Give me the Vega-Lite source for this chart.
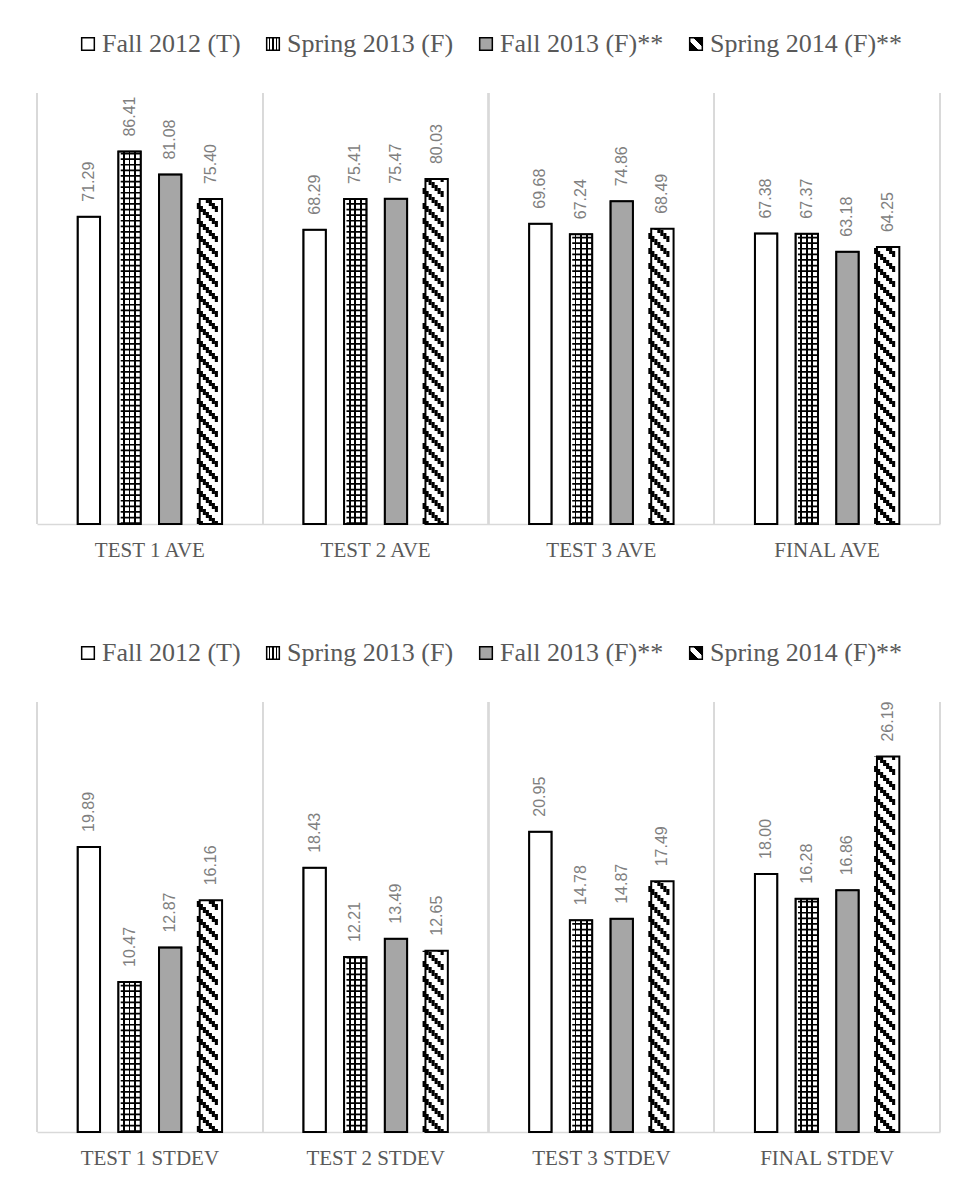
{
  "$schema": "https://vega.github.io/schema/vega-lite/v6.json",
  "padding": {"left": 36, "top": 31, "right": 30, "bottom": 10},
  "background": "white",
  "datasets": {
    "ave": [
      {"cat": "TEST 1 AVE", "s": "Fall 2012 (T)", "v": 71.29},
      {"cat": "TEST 1 AVE", "s": "Spring 2013 (F)", "v": 86.41},
      {"cat": "TEST 1 AVE", "s": "Fall 2013 (F)**", "v": 81.08},
      {"cat": "TEST 1 AVE", "s": "Spring 2014 (F)**", "v": 75.40},
      {"cat": "TEST 2 AVE", "s": "Fall 2012 (T)", "v": 68.29},
      {"cat": "TEST 2 AVE", "s": "Spring 2013 (F)", "v": 75.41},
      {"cat": "TEST 2 AVE", "s": "Fall 2013 (F)**", "v": 75.47},
      {"cat": "TEST 2 AVE", "s": "Spring 2014 (F)**", "v": 80.03},
      {"cat": "TEST 3 AVE", "s": "Fall 2012 (T)", "v": 69.68},
      {"cat": "TEST 3 AVE", "s": "Spring 2013 (F)", "v": 67.24},
      {"cat": "TEST 3 AVE", "s": "Fall 2013 (F)**", "v": 74.86},
      {"cat": "TEST 3 AVE", "s": "Spring 2014 (F)**", "v": 68.49},
      {"cat": "FINAL AVE", "s": "Fall 2012 (T)", "v": 67.38},
      {"cat": "FINAL AVE", "s": "Spring 2013 (F)", "v": 67.37},
      {"cat": "FINAL AVE", "s": "Fall 2013 (F)**", "v": 63.18},
      {"cat": "FINAL AVE", "s": "Spring 2014 (F)**", "v": 64.25}
    ],
    "sd": [
      {"cat": "TEST 1 STDEV", "s": "Fall 2012 (T)", "v": 19.89},
      {"cat": "TEST 1 STDEV", "s": "Spring 2013 (F)", "v": 10.47},
      {"cat": "TEST 1 STDEV", "s": "Fall 2013 (F)**", "v": 12.87},
      {"cat": "TEST 1 STDEV", "s": "Spring 2014 (F)**", "v": 16.16},
      {"cat": "TEST 2 STDEV", "s": "Fall 2012 (T)", "v": 18.43},
      {"cat": "TEST 2 STDEV", "s": "Spring 2013 (F)", "v": 12.21},
      {"cat": "TEST 2 STDEV", "s": "Fall 2013 (F)**", "v": 13.49},
      {"cat": "TEST 2 STDEV", "s": "Spring 2014 (F)**", "v": 12.65},
      {"cat": "TEST 3 STDEV", "s": "Fall 2012 (T)", "v": 20.95},
      {"cat": "TEST 3 STDEV", "s": "Spring 2013 (F)", "v": 14.78},
      {"cat": "TEST 3 STDEV", "s": "Fall 2013 (F)**", "v": 14.87},
      {"cat": "TEST 3 STDEV", "s": "Spring 2014 (F)**", "v": 17.49},
      {"cat": "FINAL STDEV", "s": "Fall 2012 (T)", "v": 18.00},
      {"cat": "FINAL STDEV", "s": "Spring 2013 (F)", "v": 16.28},
      {"cat": "FINAL STDEV", "s": "Fall 2013 (F)**", "v": 16.86},
      {"cat": "FINAL STDEV", "s": "Spring 2014 (F)**", "v": 26.19}
    ]
  },
  "spacing": 80,
  "resolve": {"scale": {"fill": "independent"}, "legend": {"fill": "independent"}},
  "vconcat": [
    {
      "data": {"name": "ave"},
      "width": 903,
      "height": 431,
      "encoding": {
        "x": {"field": "cat", "type": "nominal", "sort": null, "scale": {"paddingInner": 0, "paddingOuter": 0}},
        "y": {"field": "v", "type": "quantitative", "scale": {"domain": [0, 100]}, "axis": null}
      },
      "layer": [
        {"mark": {"type": "rule", "color": "#D9D9D9", "strokeWidth": 1.5},
         "encoding": {"x": {"field": "cat", "type": "nominal", "sort": null, "bandPosition": 0}, "y": {"datum": 0, "type": "quantitative", "axis": null}, "y2": {"datum": 100}}},
        {"mark": {"type": "rule", "color": "#D9D9D9", "strokeWidth": 1.5},
         "encoding": {"x": {"field": "cat", "type": "nominal", "sort": null, "bandPosition": 1}, "y": {"datum": 0, "type": "quantitative", "axis": null}, "y2": {"datum": 100}}},
        {"transform": [{"filter": "datum.s !== 'Spring 2014 (F)**'"}],
         "mark": {"type": "bar", "stroke": "black", "strokeWidth": 1.5},
         "encoding": {
           "xOffset": {"field": "s", "type": "nominal", "sort": null, "scale": {"paddingInner": 0.45, "paddingOuter": 1.17}},
           "fill": {"field": "s", "type": "nominal", "legend": {"title": null},
             "scale": {"domain": ["Fall 2012 (T)", "Spring 2013 (F)", "Fall 2013 (F)**", "Spring 2014 (F)**"],
               "range": ["white",
                 {"expr": "{gradient: 'linear', x1: 0, y1: 0, x2: 1, y2: 0, stops: [{offset: 0, color: 'white'}, {offset: 0.21, color: 'white'}, {offset: 0.21, color: 'black'}, {offset: 0.29, color: 'black'}, {offset: 0.29, color: 'white'}, {offset: 0.46, color: 'white'}, {offset: 0.46, color: 'black'}, {offset: 0.54, color: 'black'}, {offset: 0.54, color: 'white'}, {offset: 0.71, color: 'white'}, {offset: 0.71, color: 'black'}, {offset: 0.79, color: 'black'}, {offset: 0.79, color: 'white'}, {offset: 1, color: 'white'}]}"},
                 "#A6A6A6",
                 {"expr": "{gradient: 'linear', x1: 0, y1: 1, x2: 1, y2: 0, stops: [{offset: 0, color: 'black'}, {offset: 0.38, color: 'black'}, {offset: 0.38, color: 'white'}, {offset: 0.62, color: 'white'}, {offset: 0.62, color: 'black'}, {offset: 1, color: 'black'}]}"}
               ]}}
         }},
        {"transform": [{"filter": "datum.s === 'Spring 2013 (F)'"}],
         "mark": {"type": "rule", "color": "black", "strokeWidth": 20, "strokeDash": [1.7, 3.9]},
         "encoding": {"x": {"field": "cat", "type": "nominal", "sort": null, "bandPosition": 0.4151}, "y": {"datum": 0, "type": "quantitative", "axis": null}, "y2": {"field": "v"}}},
        {"transform": [{"filter": "datum.s === 'Spring 2014 (F)**'"}],
         "mark": {"type": "rule", "color": "black", "strokeWidth": 3.1, "strokeDash": [6, 9], "strokeDashOffset": 0, "xOffset": -9},
         "encoding": {"x": {"field": "cat", "type": "nominal", "sort": null, "bandPosition": 0.7547}, "y": {"datum": 0, "type": "quantitative", "axis": null}, "y2": {"field": "v"}}},
        {"transform": [{"filter": "datum.s === 'Spring 2014 (F)**'"}],
         "mark": {"type": "rule", "color": "black", "strokeWidth": 3.1, "strokeDash": [6, 9], "strokeDashOffset": 3, "xOffset": -6},
         "encoding": {"x": {"field": "cat", "type": "nominal", "sort": null, "bandPosition": 0.7547}, "y": {"datum": 0, "type": "quantitative", "axis": null}, "y2": {"field": "v"}}},
        {"transform": [{"filter": "datum.s === 'Spring 2014 (F)**'"}],
         "mark": {"type": "rule", "color": "black", "strokeWidth": 3.1, "strokeDash": [6, 9], "strokeDashOffset": 6, "xOffset": -3},
         "encoding": {"x": {"field": "cat", "type": "nominal", "sort": null, "bandPosition": 0.7547}, "y": {"datum": 0, "type": "quantitative", "axis": null}, "y2": {"field": "v"}}},
        {"transform": [{"filter": "datum.s === 'Spring 2014 (F)**'"}],
         "mark": {"type": "rule", "color": "black", "strokeWidth": 3.1, "strokeDash": [6, 9], "strokeDashOffset": 9, "xOffset": 0},
         "encoding": {"x": {"field": "cat", "type": "nominal", "sort": null, "bandPosition": 0.7547}, "y": {"datum": 0, "type": "quantitative", "axis": null}, "y2": {"field": "v"}}},
        {"transform": [{"filter": "datum.s === 'Spring 2014 (F)**'"}],
         "mark": {"type": "rule", "color": "black", "strokeWidth": 3.1, "strokeDash": [6, 9], "strokeDashOffset": 12, "xOffset": 3},
         "encoding": {"x": {"field": "cat", "type": "nominal", "sort": null, "bandPosition": 0.7547}, "y": {"datum": 0, "type": "quantitative", "axis": null}, "y2": {"field": "v"}}},
        {"transform": [{"filter": "datum.s === 'Spring 2014 (F)**'"}],
         "mark": {"type": "rule", "color": "black", "strokeWidth": 3.1, "strokeDash": [6, 9], "strokeDashOffset": 15, "xOffset": 6},
         "encoding": {"x": {"field": "cat", "type": "nominal", "sort": null, "bandPosition": 0.7547}, "y": {"datum": 0, "type": "quantitative", "axis": null}, "y2": {"field": "v"}}},
        {"transform": [{"filter": "datum.s === 'Spring 2014 (F)**'"}],
         "mark": {"type": "rule", "color": "black", "strokeWidth": 3.1, "strokeDash": [6, 9], "strokeDashOffset": 18, "xOffset": 9},
         "encoding": {"x": {"field": "cat", "type": "nominal", "sort": null, "bandPosition": 0.7547}, "y": {"datum": 0, "type": "quantitative", "axis": null}, "y2": {"field": "v"}}},
        {"mark": {"type": "bar", "fill": "transparent", "stroke": "black", "strokeWidth": 2},
         "encoding": {"xOffset": {"field": "s", "type": "nominal", "sort": null}}},
        {"mark": {"type": "text", "angle": 270, "align": "left", "baseline": "middle", "dx": 15, "font": "Liberation Sans", "fontSize": 16, "color": "#7F7F7F"},
         "encoding": {"xOffset": {"field": "s", "type": "nominal", "sort": null}, "text": {"field": "v", "type": "quantitative", "format": ".2f"}}}
      ]
    },
    {
      "data": {"name": "sd"},
      "width": 903,
      "height": 430,
      "encoding": {
        "x": {"field": "cat", "type": "nominal", "sort": null, "scale": {"paddingInner": 0, "paddingOuter": 0}},
        "y": {"field": "v", "type": "quantitative", "scale": {"domain": [0, 30]}, "axis": null}
      },
      "layer": [
        {"mark": {"type": "rule", "color": "#D9D9D9", "strokeWidth": 1.5},
         "encoding": {"x": {"field": "cat", "type": "nominal", "sort": null, "bandPosition": 0}, "y": {"datum": 0, "type": "quantitative", "axis": null}, "y2": {"datum": 30}}},
        {"mark": {"type": "rule", "color": "#D9D9D9", "strokeWidth": 1.5},
         "encoding": {"x": {"field": "cat", "type": "nominal", "sort": null, "bandPosition": 1}, "y": {"datum": 0, "type": "quantitative", "axis": null}, "y2": {"datum": 30}}},
        {"transform": [{"filter": "datum.s !== 'Spring 2014 (F)**'"}],
         "mark": {"type": "bar", "stroke": "black", "strokeWidth": 1.5},
         "encoding": {
           "xOffset": {"field": "s", "type": "nominal", "sort": null, "scale": {"paddingInner": 0.45, "paddingOuter": 1.17}},
           "fill": {"field": "s", "type": "nominal", "legend": {"title": null},
             "scale": {"domain": ["Fall 2012 (T)", "Spring 2013 (F)", "Fall 2013 (F)**", "Spring 2014 (F)**"],
               "range": ["white",
                 {"expr": "{gradient: 'linear', x1: 0, y1: 0, x2: 1, y2: 0, stops: [{offset: 0, color: 'white'}, {offset: 0.21, color: 'white'}, {offset: 0.21, color: 'black'}, {offset: 0.29, color: 'black'}, {offset: 0.29, color: 'white'}, {offset: 0.46, color: 'white'}, {offset: 0.46, color: 'black'}, {offset: 0.54, color: 'black'}, {offset: 0.54, color: 'white'}, {offset: 0.71, color: 'white'}, {offset: 0.71, color: 'black'}, {offset: 0.79, color: 'black'}, {offset: 0.79, color: 'white'}, {offset: 1, color: 'white'}]}"},
                 "#A6A6A6",
                 {"expr": "{gradient: 'linear', x1: 0, y1: 1, x2: 1, y2: 0, stops: [{offset: 0, color: 'black'}, {offset: 0.38, color: 'black'}, {offset: 0.38, color: 'white'}, {offset: 0.62, color: 'white'}, {offset: 0.62, color: 'black'}, {offset: 1, color: 'black'}]}"}
               ]}}
         }},
        {"transform": [{"filter": "datum.s === 'Spring 2013 (F)'"}],
         "mark": {"type": "rule", "color": "black", "strokeWidth": 20, "strokeDash": [1.7, 3.9]},
         "encoding": {"x": {"field": "cat", "type": "nominal", "sort": null, "bandPosition": 0.4151}, "y": {"datum": 0, "type": "quantitative", "axis": null}, "y2": {"field": "v"}}},
        {"transform": [{"filter": "datum.s === 'Spring 2014 (F)**'"}],
         "mark": {"type": "rule", "color": "black", "strokeWidth": 3.1, "strokeDash": [6, 9], "strokeDashOffset": 0, "xOffset": -9},
         "encoding": {"x": {"field": "cat", "type": "nominal", "sort": null, "bandPosition": 0.7547}, "y": {"datum": 0, "type": "quantitative", "axis": null}, "y2": {"field": "v"}}},
        {"transform": [{"filter": "datum.s === 'Spring 2014 (F)**'"}],
         "mark": {"type": "rule", "color": "black", "strokeWidth": 3.1, "strokeDash": [6, 9], "strokeDashOffset": 3, "xOffset": -6},
         "encoding": {"x": {"field": "cat", "type": "nominal", "sort": null, "bandPosition": 0.7547}, "y": {"datum": 0, "type": "quantitative", "axis": null}, "y2": {"field": "v"}}},
        {"transform": [{"filter": "datum.s === 'Spring 2014 (F)**'"}],
         "mark": {"type": "rule", "color": "black", "strokeWidth": 3.1, "strokeDash": [6, 9], "strokeDashOffset": 6, "xOffset": -3},
         "encoding": {"x": {"field": "cat", "type": "nominal", "sort": null, "bandPosition": 0.7547}, "y": {"datum": 0, "type": "quantitative", "axis": null}, "y2": {"field": "v"}}},
        {"transform": [{"filter": "datum.s === 'Spring 2014 (F)**'"}],
         "mark": {"type": "rule", "color": "black", "strokeWidth": 3.1, "strokeDash": [6, 9], "strokeDashOffset": 9, "xOffset": 0},
         "encoding": {"x": {"field": "cat", "type": "nominal", "sort": null, "bandPosition": 0.7547}, "y": {"datum": 0, "type": "quantitative", "axis": null}, "y2": {"field": "v"}}},
        {"transform": [{"filter": "datum.s === 'Spring 2014 (F)**'"}],
         "mark": {"type": "rule", "color": "black", "strokeWidth": 3.1, "strokeDash": [6, 9], "strokeDashOffset": 12, "xOffset": 3},
         "encoding": {"x": {"field": "cat", "type": "nominal", "sort": null, "bandPosition": 0.7547}, "y": {"datum": 0, "type": "quantitative", "axis": null}, "y2": {"field": "v"}}},
        {"transform": [{"filter": "datum.s === 'Spring 2014 (F)**'"}],
         "mark": {"type": "rule", "color": "black", "strokeWidth": 3.1, "strokeDash": [6, 9], "strokeDashOffset": 15, "xOffset": 6},
         "encoding": {"x": {"field": "cat", "type": "nominal", "sort": null, "bandPosition": 0.7547}, "y": {"datum": 0, "type": "quantitative", "axis": null}, "y2": {"field": "v"}}},
        {"transform": [{"filter": "datum.s === 'Spring 2014 (F)**'"}],
         "mark": {"type": "rule", "color": "black", "strokeWidth": 3.1, "strokeDash": [6, 9], "strokeDashOffset": 18, "xOffset": 9},
         "encoding": {"x": {"field": "cat", "type": "nominal", "sort": null, "bandPosition": 0.7547}, "y": {"datum": 0, "type": "quantitative", "axis": null}, "y2": {"field": "v"}}},
        {"mark": {"type": "bar", "fill": "transparent", "stroke": "black", "strokeWidth": 2},
         "encoding": {"xOffset": {"field": "s", "type": "nominal", "sort": null}}},
        {"mark": {"type": "text", "angle": 270, "align": "left", "baseline": "middle", "dx": 15, "font": "Liberation Sans", "fontSize": 16, "color": "#7F7F7F"},
         "encoding": {"xOffset": {"field": "s", "type": "nominal", "sort": null}, "text": {"field": "v", "type": "quantitative", "format": ".2f"}}}
      ]
    }
  ],
  "config": {
    "view": {"stroke": null},
    "axisX": {"title": null, "labelAngle": 0, "labelFont": "Liberation Serif", "labelFontSize": 21, "labelColor": "#595959", "labelPadding": 15, "ticks": false, "tickSize": 0, "domainColor": "#D9D9D9", "domainWidth": 1.5, "grid": false},
    "legend": {
      "orient": "top", "direction": "horizontal", "symbolType": "square", "symbolSize": 160,
      "symbolStrokeColor": "black", "symbolStrokeWidth": 1.5,
      "labelFont": "Liberation Serif", "labelFontSize": 26, "labelColor": "#595959",
      "labelOffset": 1, "columnPadding": 19, "labelLimit": 400, "offset": 36,
      "layout": {"top": {"anchor": "middle"}}
    }
  }
}
